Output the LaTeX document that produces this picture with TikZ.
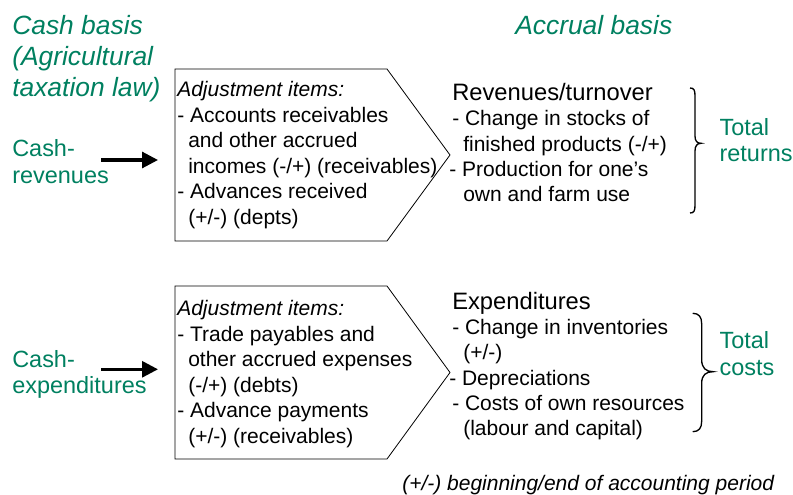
\documentclass[tikz,border=0pt]{standalone}
\usepackage{fontspec}
\setmainfont{Liberation Sans}
\usetikzlibrary{arrows.meta}
\definecolor{accgreen}{RGB}{0,128,96}
\begin{document}
\begin{tikzpicture}[x=0.75pt,y=-0.75pt,
  txt/.style={anchor=base west,inner sep=0pt,font=\fontsize{15.75}{19}\selectfont},
  btxt/.style={anchor=base west,inner sep=0pt,font=\fontsize{17.8}{21}\selectfont},
  itxt/.style={txt,font=\fontsize{15.75}{19}\selectfont\itshape},
  gtxt/.style={anchor=base west,inner sep=0pt,text=accgreen,font=\fontsize{17.6}{20}\selectfont},
  htxt/.style={anchor=base west,inner sep=0pt,text=accgreen,font=\fontsize{19.8}{23}\selectfont\itshape},
  pent/.style={draw=black,line width=0.6pt},
  flow/.style={line width=2.3pt,-{Triangle[length=12pt,width=12pt]}},
  brace/.style={draw=black,line width=1pt}]
\useasboundingbox (0,0) rectangle (793,495);

% headings
\node[htxt] (h1) at (12,34.3) {Cash basis};
\node[htxt] (h2) at (12,65.5) {(Agricultural};
\node[htxt] (h3) at (12,96.7) {taxation law)};
\node[htxt] (h4) at (515,34.3) {Accrual basis};

% left labels
\node[gtxt] (cr1) at (12,156.7) {Cash-};
\node[gtxt] (cr2) at (12,183.3) {revenues};
\node[gtxt] (ce1) at (12,367.3) {Cash-};
\node[gtxt] (ce2) at (12,393.3) {expenditures};

% arrows
\coordinate (a1s) at (101,160);
\coordinate (a1e) at (158,160);
\coordinate (a2s) at (101,369.3);
\coordinate (a2e) at (158,369.3);
\draw[flow] (a1s) -- (a1e);
\draw[flow] (a2s) -- (a2e);

% pentagons
\draw[pent] (175,69) -- (387,69) -- (450,155) -- (387,241) -- (175,241) -- cycle;
\draw[pent] (175,286) -- (387,286) -- (450,372.5) -- (387,459) -- (175,459) -- cycle;

% top adjustment text
\node[itxt] (t1) at (177,97) {Adjustment items:};
\node[txt] (t2) at (177,122.5) {- Accounts receivables};
\node[txt] (t3) at (188,148) {and other accrued};
\node[txt] (t4) at (188,173.5) {incomes (-/+) (receivables)};
\node[txt] (t5) at (177,199) {- Advances received};
\node[txt] (t6) at (188,224.5) {(+/-) (depts)};

% bottom adjustment text
\node[itxt] (b1) at (177,315.7) {Adjustment items:};
\node[txt] (b2) at (177,341.2) {- Trade payables and};
\node[txt] (b3) at (188,366.7) {other accrued expenses};
\node[txt] (b4) at (188,392.2) {(-/+) (debts)};
\node[txt] (b5) at (177,417.7) {- Advance payments};
\node[txt] (b6) at (188,443.2) {(+/-) (receivables)};

% right top text
\node[btxt] (r1) at (452,100.7) {Revenues/turnover};
\node[txt] (r2) at (452,126) {- Change in stocks of};
\node[txt] (r3) at (463,151.2) {finished products (-/+)};
\node[txt] (r4) at (449,176.5) {- Production for one’s};
\node[txt] (r5) at (463,201.7) {own and farm use};

% right bottom text
\node[btxt] (e1) at (452,309.3) {Expenditures};
\node[txt] (e2) at (452,334.6) {- Change in inventories};
\node[txt] (e3) at (463,359.9) {(+/-)};
\node[txt] (e4) at (449,385.2) {- Depreciations};
\node[txt] (e5) at (452,410.5) {- Costs of own resources};
\node[txt] (e6) at (463,435.8) {(labour and capital)};

% braces
\draw[brace] (690,88) .. controls (694,88) and (695,90) .. (695,96) -- (695,136)
  .. controls (695,141) and (697,143.3) .. (701,143.3)
  .. controls (697,143.3) and (695,146) .. (695,151) -- (695,205)
  .. controls (695,211) and (694,213) .. (690,213);
\draw[brace] (692.7,313.3) .. controls (699,313.3) and (701.7,317) .. (701.7,324) -- (701.7,360)
  .. controls (701.7,368) and (706,371.7) .. (713,371.7)
  .. controls (706,371.7) and (701.7,375) .. (701.7,383) -- (701.7,421)
  .. controls (701.7,428) and (699,431.7) .. (692.7,431.7);

% totals
\node[gtxt] (tr1) at (719.3,136) {Total};
\node[gtxt] (tr2) at (719.3,161.7) {returns};
\node[gtxt] (tc1) at (719.3,348.3) {Total};
\node[gtxt] (tc2) at (719.3,376) {costs};

% footnote
\node[itxt] (fn) at (402,490) {(+/-) beginning/end of accounting period};
\end{tikzpicture}
\end{document}
